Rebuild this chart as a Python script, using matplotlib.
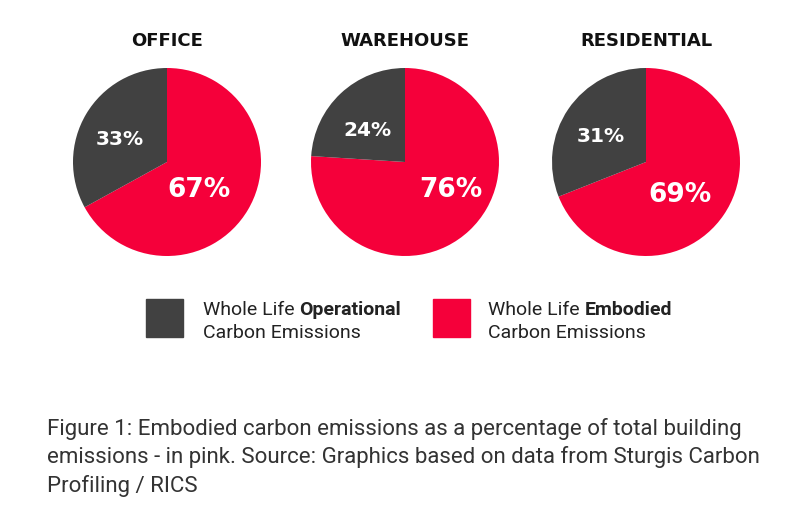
import matplotlib
matplotlib.use("Agg")
import matplotlib.pyplot as plt

# data
buildings = ["OFFICE", "WAREHOUSE", "RESIDENTIAL"]
embodied = [67, 76, 69]
operational = [33, 24, 31]
legend_plain = ["Whole Life ", "Whole Life "]
legend_bold = ["Operational", "Embodied"]
legend_second = ["Carbon Emissions", "Carbon Emissions"]
caption_lines = [
    "Figure 1: Embodied carbon emissions as a percentage of total building",
    "emissions - in pink. Source: Graphics based on data from Sturgis Carbon",
    "Profiling / RICS",
]

RED = "#f5003a"
GREY = "#414141"
W, H = 794, 510

fig = plt.figure(figsize=(W / 100, H / 100), dpi=100)
fig.patch.set_facecolor("white")

centers_x = [167, 405, 646]
center_y = 163
radius = 94
# label placement, in units of the pie radius (embodied, operational)
label_xy = [
    [(0.34, -0.29), (-0.50, 0.245)],
    [(0.49, -0.29), (-0.40, 0.35)],
    [(0.36, -0.34), (-0.48, 0.28)],
]

for name, emb, op, cx, lxy in zip(buildings, embodied, operational, centers_x, label_xy):
    ax = fig.add_axes([(cx - radius) / W, 1 - (center_y + radius) / H,
                       2 * radius / W, 2 * radius / H])
    ax.pie([emb, op], colors=[RED, GREY], startangle=90,
           counterclock=False, radius=1.0, wedgeprops=dict(linewidth=0))
    ax.set_xlim(-1, 1)
    ax.set_ylim(-1, 1)
    ax.set_aspect("equal")
    ax.axis("off")
    # percent labels
    for val, (lx, ly), fs in zip([emb, op], lxy, [19, 14.5]):
        ax.text(lx, ly, f"{val}%", color="white", fontsize=fs, fontweight="bold",
                family="DejaVu Sans", ha="center", va="center")
    fig.text(cx / W, 1 - 41 / H, name, fontsize=13, fontweight="bold",
             family="DejaVu Sans", ha="center", va="center", color="#111111")

# legend
renderer = fig.canvas.get_renderer()
sq_x = [146, 433]
txt_x = [203, 488]
for sx, tx, col, plain, bold, second in zip(sq_x, txt_x, [GREY, RED],
                                            legend_plain, legend_bold, legend_second):
    fig.patches.append(plt.Rectangle((sx / W, 1 - 338 / H), 37 / W, 38 / H,
                                     transform=fig.transFigure, color=col))
    t1 = fig.text(tx / W, 1 - 310 / H, plain, fontsize=14, family="Roboto",
                  ha="left", va="center", color="#222222")
    bb = t1.get_window_extent(renderer)
    fig.text(bb.x1 / W, 1 - 310 / H, bold, fontsize=14, family="Roboto",
             fontweight="bold", ha="left", va="center", color="#222222")
    fig.text(tx / W, 1 - 333 / H, second, fontsize=14, family="Roboto",
             ha="left", va="center", color="#222222")

# caption
for i, line in enumerate(caption_lines):
    fig.text(47 / W, 1 - (429 + 28.5 * i) / H, line, fontsize=16,
             family="Roboto", ha="left", va="center", color="#333333")

fig.savefig("out.png", dpi=100, facecolor="white")
